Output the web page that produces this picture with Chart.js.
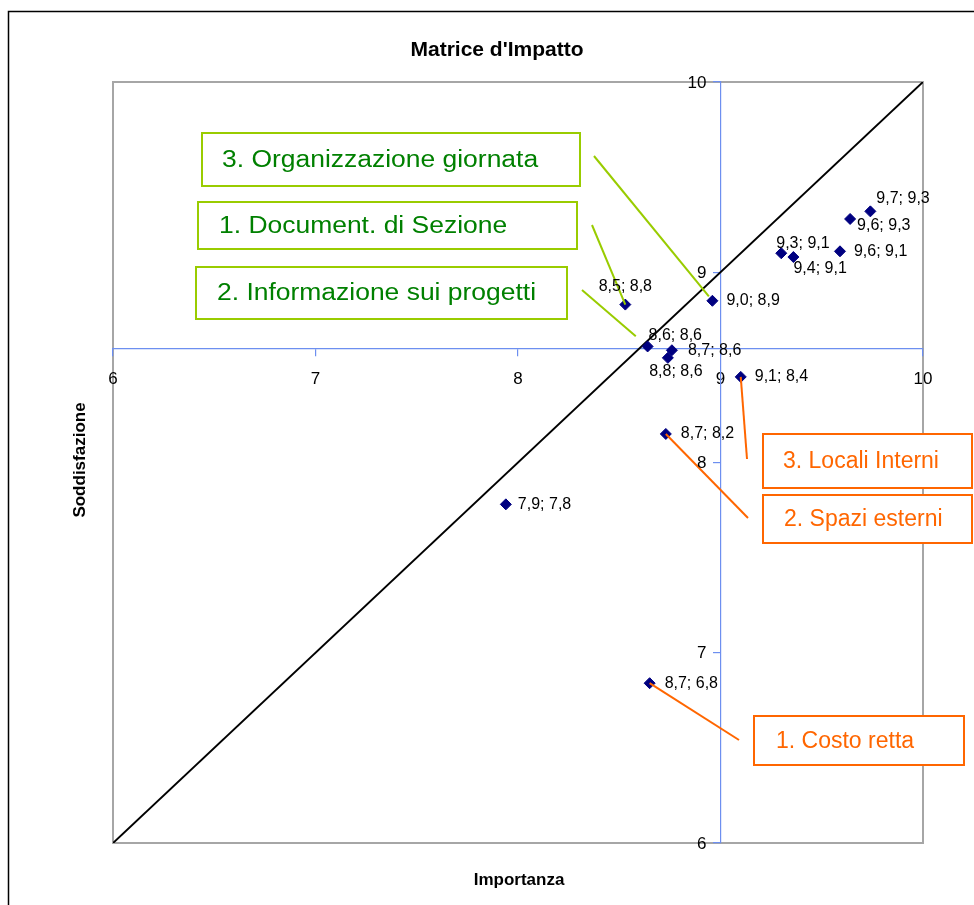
<!DOCTYPE html>
<html>
<head>
<meta charset="utf-8">
<script src="https://cdn.jsdelivr.net/npm/chart.js@4"></script>
<style>
  body { margin: 0; background: #fff; }
  canvas { display: block; }
</style>
</head>
<body>
<canvas id="myChart" width="974" height="905"></canvas>
<script>
// values
const importanza = [8.53, 8.64, 8.76, 8.74, 8.96, 9.10, 8.73, 7.94, 8.65, 9.30, 9.36, 9.59, 9.64, 9.74];
const soddisfazione = [8.83, 8.61, 8.59, 8.55, 8.85, 8.45, 8.15, 7.78, 6.84, 9.10, 9.08, 9.11, 9.28, 9.32];
const pointLabels = ["8,5; 8,8", "8,6; 8,6", "8,7; 8,6", "8,8; 8,6", "9,0; 8,9", "9,1; 8,4", "8,7; 8,2",
  "7,9; 7,8", "8,7; 6,8", "9,3; 9,1", "9,4; 9,1", "9,6; 9,1", "9,6; 9,3", "9,7; 9,3"];
const axisTicks = [6, 7, 8, 9, 10];
const diagonal = [6, 10];
const crossX = 9;   // y axis sits at importanza = 9
const crossY = 8.6; // x axis sits at soddisfazione = 8.6

// where each point label sits relative to its marker [dx, dy, align]
const labelPlace = [
  [0, -18, "center"], [1, -11, "left"], [16, 0, "left"], [8, 14, "center"], [14, 0, "left"],
  [14, 0, "left"], [15, 0, "left"], [12, 0, "left"], [15, 0, "left"], [-5, -10, "left"],
  [0, 12, "left"], [14, 0, "left"], [7, 7, "left"], [6, -13, "left"]
];

const green = "#008000", greenLine = "#99cc00", orange = "#ff6600";
const FONT = '"Liberation Sans", Arial, sans-serif';

// callout boxes, connector goes from "from" toward point index "to"
const callouts = [
  { text: "3. Organizzazione giornata", color: green, line: greenLine, box: [202, 133, 378, 53], tx: 222, sx: 1.15, from: [594, 156], to: 4, reach: 0.97 },
  { text: "1. Document. di Sezione", color: green, line: greenLine, box: [198, 202, 379, 47], tx: 219, sx: 1.15, from: [592, 225], to: 0, reach: 1 },
  { text: "2. Informazione sui progetti", color: green, line: greenLine, box: [196, 267, 371, 52], tx: 217, sx: 1.15, from: [582, 290], to: 1, reach: 0.82 },
  { text: "3. Locali Interni", color: orange, line: orange, box: [763, 434, 209, 54], tx: 783, sx: 1, from: [747, 459], to: 5, reach: 1 },
  { text: "2. Spazi esterni", color: orange, line: orange, box: [763, 495, 209, 48], tx: 784, sx: 1, from: [748, 518], to: 6, reach: 1 },
  { text: "1. Costo retta", color: orange, line: orange, box: [754, 716, 210, 49], tx: 776, sx: 1, from: [739, 740], to: 8, reach: 1 }
];

const decor = {
  id: "decor",
  beforeDraw(chart) {
    const { ctx, chartArea: a } = chart;
    ctx.save();
    ctx.fillStyle = "#fff";
    ctx.fillRect(0, 0, chart.width, chart.height);
    ctx.strokeStyle = "#000";
    ctx.lineWidth = 1.5;
    ctx.strokeRect(8.5, 11.5, chart.width + 20, chart.height + 20);
    ctx.strokeStyle = "#a6a6a6";
    ctx.lineWidth = 2;
    ctx.strokeRect(a.left, a.top, a.right - a.left, a.bottom - a.top);

    ctx.fillStyle = "#000";
    ctx.textAlign = "center";
    ctx.textBaseline = "middle";
    ctx.font = "bold 21px " + FONT;
    ctx.fillText("Matrice d'Impatto", 497, 50);
    ctx.font = "bold 17px " + FONT;
    ctx.fillText("Importanza", 519, 880);
    ctx.translate(80, 460);
    ctx.rotate(-Math.PI / 2);
    ctx.fillText("Soddisfazione", 0, 0);
    ctx.restore();
  },
  afterDraw(chart) {
    // y tick labels, left of the crossing axis
    const { ctx, scales } = chart;
    const ax = scales.x.getPixelForValue(crossX);
    ctx.save();
    ctx.fillStyle = "#000";
    ctx.font = "17px " + FONT;
    ctx.textAlign = "right";
    ctx.textBaseline = "middle";
    axisTicks.forEach(v => ctx.fillText(String(v), ax - 14, scales.y.getPixelForValue(v) + 1));
    ctx.restore();
  },
  afterDatasetsDraw(chart) {
    const { ctx } = chart;
    const pts = chart.getDatasetMeta(0).data;
    ctx.save();
    // connectors
    callouts.forEach(c => {
      const p = pts[c.to];
      const ex = c.from[0] + (p.x - c.from[0]) * c.reach;
      const ey = c.from[1] + (p.y - c.from[1]) * c.reach;
      ctx.strokeStyle = c.line;
      ctx.lineWidth = 2;
      ctx.beginPath();
      ctx.moveTo(c.from[0], c.from[1]);
      ctx.lineTo(ex, ey);
      ctx.stroke();
    });
    // boxes
    callouts.forEach(c => {
      const [x, y, w, h] = c.box;
      ctx.fillStyle = "#fff";
      ctx.fillRect(x, y, w, h);
      ctx.strokeStyle = c.line;
      ctx.lineWidth = 2;
      ctx.strokeRect(x, y, w, h);
      ctx.save();
      ctx.fillStyle = c.color;
      ctx.font = "23px " + FONT;
      ctx.textAlign = "left";
      ctx.textBaseline = "middle";
      ctx.translate(c.tx, y + h / 2 + 1);
      ctx.scale(c.sx, 1);
      ctx.fillText(c.text, 0, 0);
      ctx.restore();
    });
    // point labels
    ctx.fillStyle = "#000";
    ctx.font = "16px " + FONT;
    ctx.textBaseline = "middle";
    pts.forEach((p, i) => {
      const [dx, dy, align] = labelPlace[i];
      ctx.textAlign = align;
      ctx.fillText(pointLabels[i], p.x + dx, p.y + dy);
    });
    ctx.restore();
  }
};

const axisBlue = "#6d8ff0";

const ctx = document.getElementById("myChart").getContext("2d");
const myChart = new Chart(ctx, {
  type: "scatter",
  data: {
    datasets: [
      {
        label: "Punti",
        data: importanza.map((v, i) => ({ x: v, y: soddisfazione[i] })),
        pointStyle: "rectRot",
        pointRadius: 5.5,
        backgroundColor: "#000080",
        borderColor: "#000080",
        borderWidth: 1
      },
      {
        type: "line",
        label: "Diagonale",
        data: diagonal.map(v => ({ x: v, y: v })),
        borderColor: "#000",
        borderWidth: 2,
        pointRadius: 0,
        fill: false
      }
    ]
  },
  options: {
    responsive: false,
    animation: false,
    layout: { padding: { left: 113, top: 82, right: 51, bottom: 62 } },
    plugins: {
      legend: { display: false },
      tooltip: { enabled: false },
      title: { display: false }
    },
    scales: {
      x: {
        type: "linear",
        min: 6,
        max: 10,
        position: { y: crossY },
        afterBuildTicks: s => { s.ticks = axisTicks.map(v => ({ value: v })); },
        border: { color: axisBlue, width: 1.2 },
        grid: { drawOnChartArea: false, drawTicks: true, tickLength: 7, color: axisBlue, lineWidth: 1.2 },
        ticks: { color: "#000", font: { family: FONT, size: 17 }, padding: 14 }
      },
      y: {
        type: "linear",
        min: 6,
        max: 10,
        position: { x: crossX },
        afterBuildTicks: s => { s.ticks = axisTicks.map(v => ({ value: v })); },
        border: { color: axisBlue, width: 1.2 },
        grid: { drawOnChartArea: false, drawTicks: true, tickLength: 7, color: axisBlue, lineWidth: 1.2 },
        ticks: { display: false }
      }
    }
  },
  plugins: [decor]
});
</script>
</body>
</html>
